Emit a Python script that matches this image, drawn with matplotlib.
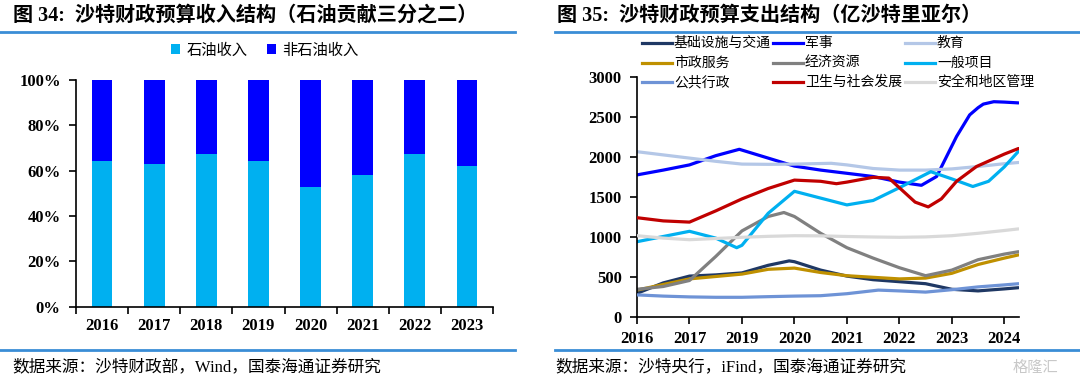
import numpy as np
import matplotlib
matplotlib.use('Agg')
import matplotlib.pyplot as plt
from matplotlib.lines import Line2D
from matplotlib.patches import Patch

plt.rcParams['font.family'] = ['Liberation Serif', 'Noto Sans CJK SC', 'DejaVu Sans']
CJK = ['Noto Sans CJK SC', 'DejaVu Sans']
MIX = ['Liberation Serif', 'Noto Sans CJK SC']

# ---------------- data: left panel (revenue shares, %) ----------------
rev_years = ['2016', '2017', '2018', '2019', '2020', '2021', '2022', '2023']
oil_share = [64.3, 63.1, 67.4, 64.1, 52.8, 58.2, 67.5, 62.2]
nonoil_share = [100 - v for v in oil_share]

# ---------------- data: right panel (expenditure, 100m SAR) ----------------
exp_ticks = ['2016', '2017', '2019', '2020', '2021', '2022', '2023', '2024']

infra_x = [0, 0.5, 1, 1.5, 2, 2.5, 2.9, 3, 3.5, 4, 4.5, 5, 5.5, 6, 6.5, 7, 7.27]
infra_y = [300, 430, 515, 530, 555, 650, 705, 695, 590, 515, 470, 445, 420, 350, 330, 355, 370]

mil_x = [0, 0.5, 1, 1.5, 1.95, 2.5, 3, 3.5, 4, 4.5, 5, 5.42, 5.71, 5.9, 6.09, 6.34, 6.5, 6.6, 6.8, 7, 7.27]
mil_y = [1780, 1840, 1905, 2020, 2100, 1990, 1890, 1840, 1800, 1760, 1690, 1650, 1760, 2010, 2260,
         2530, 2620, 2665, 2695, 2690, 2680]

edu_x = [0, 0.5, 1, 1.5, 2, 2.5, 3, 3.7, 4, 4.5, 5, 5.5, 6, 6.5, 7, 7.27]
edu_y = [2070, 2030, 1990, 1950, 1915, 1912, 1915, 1925, 1905, 1860, 1840, 1840, 1855, 1885, 1920, 1935]

muni_x = [0, 0.5, 1, 1.5, 2, 2.5, 3, 3.5, 4, 4.5, 5, 5.5, 6, 6.5, 7, 7.27]
muni_y = [340, 410, 480, 510, 540, 600, 615, 560, 520, 500, 480, 490, 550, 660, 740, 780]

econ_x = [0, 0.5, 1, 1.5, 2, 2.5, 2.8, 3, 3.5, 4, 4.5, 5, 5.5, 6, 6.5, 7, 7.27]
econ_y = [350, 385, 460, 760, 1080, 1260, 1310, 1260, 1050, 870, 740, 620, 520, 590, 720, 790, 820]

gen_x = [0, 0.5, 1, 1.5, 1.9, 2, 2.5, 3, 3.5, 4, 4.5, 5, 5.6, 6, 6.4, 6.7, 7, 7.27]
gen_y = [945, 1010, 1075, 990, 870, 900, 1300, 1575, 1490, 1405, 1460, 1620, 1820, 1730, 1635, 1700,
         1880, 2075]

pub_x = [0, 0.5, 1, 1.5, 2, 2.5, 3, 3.5, 4, 4.6, 5, 5.5, 6, 6.5, 7, 7.27]
pub_y = [280, 265, 255, 250, 250, 258, 265, 270, 295, 340, 330, 315, 345, 380, 405, 420]

health_x = [0, 0.5, 1, 1.5, 2, 2.5, 3, 3.5, 3.8, 4, 4.5, 4.8, 5, 5.3, 5.55, 5.8, 6.09, 6.47, 7, 7.27]
health_y = [1245, 1205, 1190, 1330, 1480, 1610, 1715, 1700, 1670, 1690, 1750, 1740, 1620, 1440, 1380,
            1480, 1700, 1885, 2040, 2110]

sec_x = [0, 0.5, 1, 1.5, 2, 2.5, 3, 3.5, 4, 4.5, 5, 5.5, 6, 6.5, 7, 7.27]
sec_y = [1020, 990, 970, 985, 1000, 1012, 1020, 1018, 1010, 1004, 1000, 1005, 1020, 1050, 1085, 1105]

series = [
    ('基础设施与交通', infra_x, infra_y, '#1F3864'),
    ('军事', mil_x, mil_y, '#0000FF'),
    ('教育', edu_x, edu_y, '#B4C7E7'),
    ('市政服务', muni_x, muni_y, '#BF9000'),
    ('经济资源', econ_x, econ_y, '#808080'),
    ('一般项目', gen_x, gen_y, '#00B0F0'),
    ('公共行政', pub_x, pub_y, '#6E93D6'),
    ('卫生与社会发展', health_x, health_y, '#C00000'),
    ('安全和地区管理', sec_x, sec_y, '#D9D9D9'),
]

W, H = 1080, 381
fig = plt.figure(figsize=(10.8, 3.81), dpi=100)


def fx(px):
    return px / W


def fy(py):
    return 1 - py / H


# ---------------- headers and footers ----------------
line_col = '#3A8DD6'
fig.text(fx(13), fy(16), '图 34:  沙特财政预算收入结构（石油贡献三分之二）',
         fontsize=14.5, fontweight='bold', family=MIX, va='center', ha='left')
fig.text(fx(557), fy(16), '图 35:  沙特财政预算支出结构（亿沙特里亚尔）',
         fontsize=14.5, fontweight='bold', family=MIX, va='center', ha='left')
for x0, x1 in [(0, 515), (555, 1080)]:
    fig.add_artist(Line2D([fx(x0), fx(x1)], [fy(32), fy(32)], color=line_col, lw=2))
    fig.add_artist(Line2D([fx(x0), fx(x1)], [fy(350), fy(350)], color=line_col, lw=2))
fig.text(fx(12), fy(367), '数据来源：沙特财政部，Wind，国泰海通证券研究',
         fontsize=12, family=MIX, va='center', ha='left')
fig.text(fx(555), fy(367), '数据来源：沙特央行，iFind，国泰海通证券研究',
         fontsize=12, family=MIX, va='center', ha='left')
fig.text(fx(1035), fy(367), '格隆汇', fontsize=11, family=CJK, color='#C8C8C8',
         va='center', ha='center')

# ---------------- left panel ----------------
ax1 = fig.add_axes([fx(76), fy(306.7), fx(493 - 76), (306.7 - 80) / H])
xpos = np.arange(len(rev_years))
ax1.bar(xpos, oil_share, width=0.4, color='#00B0F0', label='石油收入')
ax1.bar(xpos, nonoil_share, bottom=oil_share, width=0.4, color='#0000FF', label='非石油收入')
ax1.set_xlim(-0.5, len(rev_years) - 0.5)
ax1.set_ylim(0, 100)
ax1.set_yticks(np.arange(0, 101, 20))
ax1.set_yticklabels([f'{v}%' for v in range(0, 101, 20)])
ax1.set_xticks(np.arange(-0.5, len(rev_years), 1))
ax1.set_xticklabels([])
ax1.set_xticks(xpos, minor=True)
ax1.set_xticklabels(rev_years, minor=True)
ax1.tick_params(axis='x', which='major', direction='out', length=5, width=1.2)
ax1.tick_params(axis='x', which='minor', length=0, pad=8)
ax1.tick_params(axis='y', direction='out', length=5, width=1.2, pad=6)
for lab in ax1.get_xticklabels(minor=True) + ax1.get_yticklabels():
    lab.set_fontsize(12)
    lab.set_fontweight('bold')
for s in ['top', 'right']:
    ax1.spines[s].set_visible(False)
for s in ['left', 'bottom']:
    ax1.spines[s].set_linewidth(1.2)

fig.legend(handles=[Patch(facecolor='#00B0F0', label='石油收入'),
                    Patch(facecolor='#0000FF', label='非石油收入')],
           loc='center', bbox_to_anchor=(fx(265), fy(50)), ncol=2, frameon=False,
           handlelength=0.6, handleheight=0.6, handletextpad=0.4, columnspacing=1.3,
           prop={'family': CJK, 'size': 11})

# ---------------- right panel ----------------
ax2 = fig.add_axes([fx(637), fy(317.3), fx(1019 - 637), (317.3 - 77.3) / H])
for i, (name, xs, ys, col) in enumerate(series):
    ax2.plot(xs, ys, color=col, lw=2.3, solid_joinstyle='round', solid_capstyle='round',
             zorder=2 + i * 0.1)
ax2.set_xlim(0, 7.28)
ax2.set_ylim(0, 3000)
ax2.set_yticks(np.arange(0, 3001, 500))
ax2.set_xticks(np.arange(len(exp_ticks)))
ax2.set_xticklabels(exp_ticks)
ax2.tick_params(axis='x', direction='out', length=5, width=1.2, pad=5)
ax2.tick_params(axis='y', direction='out', length=5, width=1.2, pad=6)
for lab in ax2.get_xticklabels() + ax2.get_yticklabels():
    lab.set_fontsize(12)
    lab.set_fontweight('bold')
for s in ['top', 'right']:
    ax2.spines[s].set_visible(False)
for s in ['left', 'bottom']:
    ax2.spines[s].set_linewidth(1.2)

# legend drawn row by row (3 x 3)
col_x = [642, 773, 905]
row_y = [43, 63, 82]
for i, (name, xs, ys, col) in enumerate(series):
    r, c = divmod(i, 3)
    x0 = col_x[c]
    yy = fy(row_y[r])
    fig.add_artist(Line2D([fx(x0), fx(x0 + 30)], [yy, yy], color=col, lw=2.3))
    fig.text(fx(x0 + 32), yy, name, fontsize=10, family=CJK, va='center', ha='left')

fig.savefig('out.png', dpi=100)
